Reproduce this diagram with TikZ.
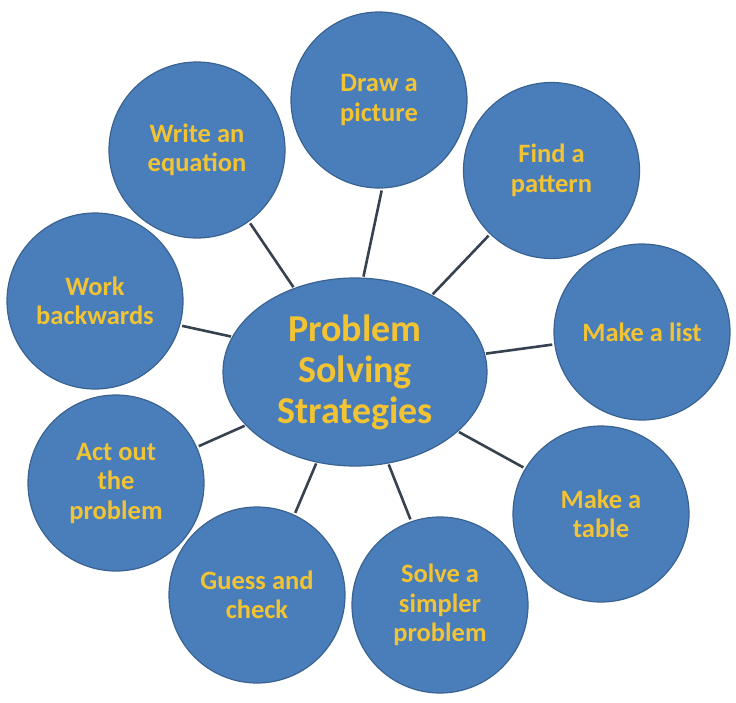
\documentclass[tikz,border=0pt]{standalone}
\usepackage{fontspec}
\setmainfont{Carlito}
\usetikzlibrary{shapes.geometric}
\definecolor{bfill}{RGB}{74,126,187}
\definecolor{bline}{RGB}{58,98,145}
\definecolor{gold}{RGB}{242,195,50}
\definecolor{conn}{RGB}{55,66,80}
\tikzset{
  strat/.style={circle,draw=bline,line width=1.2pt,fill=bfill,minimum size=176pt,inner sep=0pt,
    align=center,text=gold,font=\fontsize{26.5}{29.5}\selectfont\bfseries},
  hub/.style={ellipse,draw=bline,line width=1.2pt,fill=bfill,minimum width=264pt,minimum height=188pt,inner sep=0pt,
    align=center,text=gold,font=\fontsize{38}{41}\selectfont\bfseries},
  link/.style={draw=conn,line width=2.6pt,shorten <=2pt,shorten >=1pt}
}
\begin{document}
\begin{tikzpicture}[x=1pt,y=-1pt]
\useasboundingbox (0,0) rectangle (736,702);
\node[hub] (c) at (355,372) {Problem\\Solving\\Strategies};
\node[strat] (dp) at (379,100) {Draw a\\picture};
\node[strat] (fp) at (551.5,170.5) {Find a\\pattern};
\node[strat] (ml) at (642,332) {Make a list};
\node[strat] (mt) at (601,514) {Make a\\table};
\node[strat] (ss) at (440,605) {Solve a\\simpler\\problem};
\node[strat] (gc) at (257,595) {Guess and\\check};
\node[strat] (ao) at (116,483) {Act out\\the\\problem};
\node[strat] (wb) at (95,301) {Work\\backwards};
\node[strat] (we) at (197,150) {Write an\\equation};
\path[link] (we.-54.8) -- (c.126.1);
\path[link] (dp.-88.8) -- (c.85.2);
\path[link] (fp.-134.1) -- (c.45.4);
\path[link] (ml.188.1) -- (c.8.2);
\path[link] (mt.149.5) -- (c.-30.3);
\path[link] (ss.109.8) -- (c.-70.2);
\path[link] (gc.65.7) -- (c.-113.6);
\path[link] (ao.24.0) -- (c.-154.2);
\path[link] (wb.-16.1) -- (c.164.9);
\end{tikzpicture}
\end{document}
